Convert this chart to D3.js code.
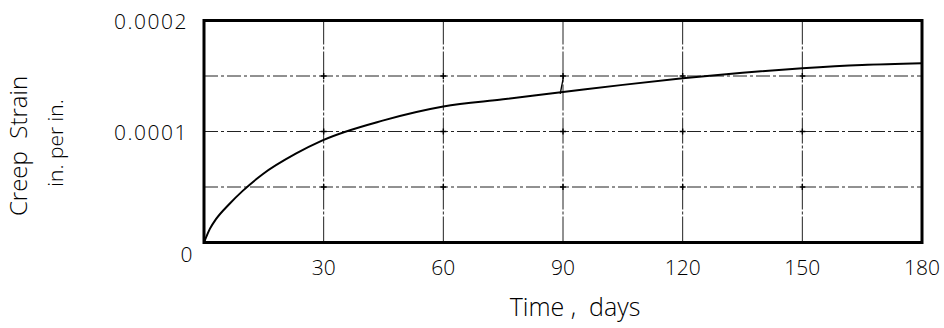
<!DOCTYPE html>
<html><head><meta charset="utf-8">
<script src="https://cdn.jsdelivr.net/npm/d3@7"></script>
<style>
html,body{margin:0;padding:0;background:#fff;}
text{font-family:"Open Sans","DejaVu Sans",sans-serif;font-weight:300;fill:#000;}
</style></head>
<body><svg id="c" width="944" height="328"></svg>
<script>
// Data
const days   = [0, 1.5, 3, 6.3, 9.7, 14.7, 23, 29.7, 45, 60, 75, 90, 105, 120, 135, 150, 165, 180];
const strain = [0, 0.0000125, 0.000021, 0.0000345, 0.0000465, 0.0000615, 0.000080, 0.000092, 0.000110, 0.0001225, 0.000129, 0.0001355, 0.000142, 0.000148, 0.000153, 0.000157, 0.000160, 0.0001616];
const xTicks = [30, 60, 90, 120, 150, 180];
const yTicks = [0, 0.0001, 0.0002];
const yLabels = ["0", "0.0001", "0.0002"];
const yGrid = [0.00005, 0.0001, 0.00015];
const xGrid = [30, 60, 90, 120, 150];
const markDays = [89.3, 90.2];
const markVals = [0.000134, 0.000151];

const svg = d3.select("#c");
const x = d3.scaleLinear().domain([0, 180]).range([204, 922]);
const y = d3.scaleLinear().domain([0, 0.0002]).range([242.5, 20.5]);

// horizontal grid (dash-dot)
svg.append("g").selectAll("line").data(yGrid).join("line")
  .attr("x1", x(0)).attr("x2", x(180))
  .attr("y1", d => y(d)).attr("y2", d => y(d))
  .attr("stroke", "#222").attr("stroke-width", 1)
  .attr("stroke-dasharray", "14,3,3,3");
// vertical grid
svg.append("g").selectAll("line").data(xGrid).join("line")
  .attr("x1", d => x(d)).attr("x2", d => x(d))
  .attr("y1", y(0)).attr("y2", y(0.0002))
  .attr("stroke", "#222").attr("stroke-width", 1)
  .attr("stroke-dasharray", "26,2,3,2");

// small crosses at intersections
const pts = [];
xGrid.forEach(a => yGrid.forEach(b => pts.push([a, b])));
svg.append("g").selectAll("path").data(pts).join("path")
  .attr("d", d => `M${x(d[0])-3},${y(d[1])}h6M${x(d[0])},${y(d[1])-3}v6`)
  .attr("stroke", "#000").attr("stroke-width", 1.4);

// frame
svg.append("rect").attr("x", x(0)).attr("y", y(0.0002))
  .attr("width", x(180) - x(0)).attr("height", y(0) - y(0.0002))
  .attr("fill", "none").attr("stroke", "#000").attr("stroke-width", 3);

// curve
const data = days.map((d, i) => [d, strain[i]]);
svg.append("path").datum(data)
  .attr("d", d3.line().x(d => x(d[0])).y(d => y(d[1])).curve(d3.curveMonotoneX))
  .attr("fill", "none").attr("stroke", "#000").attr("stroke-width", 2);

// small hand mark near 90 days
svg.append("path").datum(markDays.map((d, i) => [d, markVals[i]]))
  .attr("d", d3.line().x(d => x(d[0])).y(d => y(d[1])))
  .attr("fill", "none").attr("stroke", "#000").attr("stroke-width", 1.3);

// x tick labels
svg.append("g").selectAll("text").data(xTicks).join("text")
  .attr("x", d => x(d))
  .attr("y", 275)
  .attr("text-anchor", "middle")
  .attr("font-size", 21)
  .text(d => d);

// y tick labels
svg.append("g").selectAll("text").data(yTicks).join("text")
  .attr("x", (d, i) => i === 0 ? 194 : 188)
  .attr("y", (d, i) => i === 0 ? y(d) + 19 : y(d) + 8)
  .attr("text-anchor", "end")
  .attr("font-size", 21)
  .attr("letter-spacing", 1.5)
  .text((d, i) => yLabels[i]);

// axis titles
svg.append("text").attr("x", 575).attr("y", 316)
  .attr("text-anchor", "middle").attr("font-size", 25)
  .attr("xml:space", "preserve")
  .text("Time ,  days");
svg.append("text").attr("transform", "translate(27,146) rotate(-90)")
  .attr("text-anchor", "middle").attr("font-size", 24)
  .attr("xml:space", "preserve")
  .text("Creep  Strain");
svg.append("text").attr("transform", "translate(63,143) rotate(-90)")
  .attr("text-anchor", "middle").attr("font-size", 21)
  .text("in. per in.");
</script></body></html>
